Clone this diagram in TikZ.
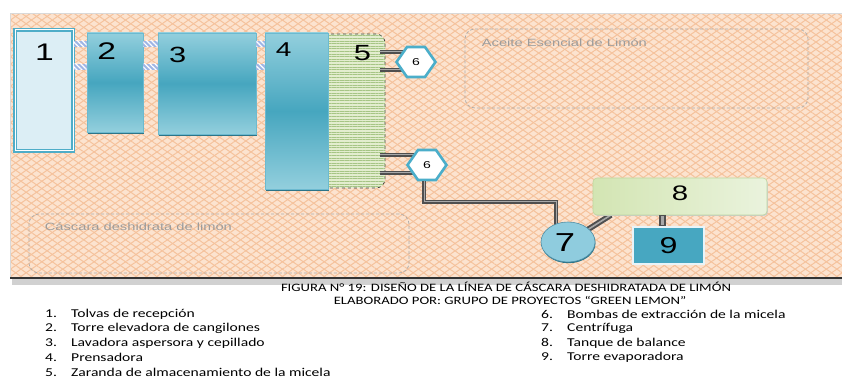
\documentclass[tikz,border=0pt]{standalone}
\usepackage{fontspec}
\setmainfont{Carlito}
\newfontfamily\figfont[FakeStretch=1.4]{Liberation Sans}
\newfontfamily\capfont[FakeStretch=1.3]{Carlito}
\usetikzlibrary{positioning, shapes.geometric, shapes.symbols, patterns.meta, shadows}
\definecolor{panelPeach}{HTML}{FCE3CF}
\definecolor{panelLine}{HTML}{F5C29C}
\definecolor{towerLight}{HTML}{93CFDD}
\definecolor{towerDark}{HTML}{46A6BF}
\definecolor{towerEdge}{HTML}{6CBAD0}
\definecolor{towerShade}{HTML}{2C7488}
\definecolor{hopperFill}{HTML}{DCEEF5}
\definecolor{hopperEdge}{HTML}{4FADC8}
\definecolor{sieveFill}{HTML}{E3EDCF}
\definecolor{sieveLine}{HTML}{A6C585}
\definecolor{linkBlue}{HTML}{9FB5E4}
\definecolor{pipeDark}{HTML}{4F4F4F}
\definecolor{pipeLight}{HTML}{A8A8A8}
\definecolor{pumpTeal}{HTML}{4BAECA}
\definecolor{spinFill}{HTML}{8FCCDE}
\definecolor{spinEdge}{HTML}{4F8EA6}
\definecolor{tankLeft}{HTML}{D3E5B3}
\definecolor{tankRight}{HTML}{EAF3DD}
\definecolor{tankEdge}{HTML}{BFD7A0}
\definecolor{evapFill}{HTML}{47A7C1}
\definecolor{noteGray}{HTML}{9C9C9C}

\begin{document}
\begin{tikzpicture}[x=1pt, y=-1pt,
  tower/.style={draw=towerEdge, line width=0.8pt, inner sep=0pt,
    top color=towerLight, bottom color=towerLight, middle color=towerDark,
    drop shadow={shadow xshift=0.6pt, shadow yshift=-1.8pt, fill=towerShade, opacity=1}},
  digit/.style={font=\figfont\fontsize{#1}{#1}\selectfont, inner sep=0pt},
  link/.style={fill=linkBlue,
    postaction={pattern={Lines[angle=-45, distance=3.5pt, line width=1.2pt]}, pattern color=white}},
  pipe/.style={draw=pipeDark, double=pipeLight, double distance=1pt, line width=1.6pt},
  pump/.style={shape=signal, signal to=west and east, signal pointer angle=110,
    draw=pumpTeal, line width=2.6pt, fill=white, inner sep=0pt,
    minimum width=39pt, minimum height=30pt, digit=10},
  note/.style={draw=gray!65, dash pattern=on 3pt off 2pt, line width=0.7pt,
    rounded corners=10pt, inner sep=0pt},
  notetext/.style={text=noteGray, font=\figfont\fontsize{10.5}{12}\selectfont, inner sep=0pt, anchor=west},
  captxt/.style={font=\capfont\fontsize{11.3}{13}\selectfont, inner sep=0pt},
  item/.style={font=\capfont\fontsize{12}{13}\selectfont, inner sep=0pt, anchor=west}
]
\useasboundingbox (0,0) rectangle (842,379);
\fill[white] (0,0) rectangle (842,379);

% fondo del diagrama
\fill[panelPeach] (10,14) rectangle (842,278);
\fill[pattern={Lines[angle=35, distance=6pt, line width=1pt]}, pattern color=panelLine] (10,14) rectangle (842,278);
\fill[pattern={Lines[angle=-35, distance=6pt, line width=1pt]}, pattern color=panelLine] (10,14) rectangle (842,278);
\draw[black!15, line width=1pt] (842,14) -- (10,14) -- (10,278);
\fill[black!18] (12,279) rectangle (842,285);
\draw[black!80, line width=1.6pt] (10,278) -- (842,278);

% zonas de producto
\node[note, minimum width=343pt, minimum height=79pt] (aceite) at (636.5,68.5) {};
\node[notetext] at ([shift={(17,14)}]aceite.north west) {Aceite Esencial de Limón};
\node[note, minimum width=380pt, minimum height=59pt] (cascara) at (219,243.5) {};
\node[notetext] at ([shift={(16,13)}]cascara.north west) {Cáscara deshidrata de limón};

% equipos
\node[draw=black!75, dashed, line width=0.7pt, rounded corners=9pt, fill=sieveFill,
  postaction={pattern={Lines[angle=0, distance=2.6pt, line width=0.8pt]}, pattern color=sieveLine},
  minimum width=70pt, minimum height=154pt, inner sep=0pt] (b5) at (350,111) {};
\node[tower, minimum width=63pt, minimum height=156pt] (b4) at (296.5,111) {};
\node[tower, minimum width=98pt, minimum height=101pt] (b3) at (207,83.5) {};
\node[tower, minimum width=56pt, minimum height=99pt] (b2) at (115,82.5) {};
\node[draw=hopperEdge, double=white, double distance=1pt, line width=1.3pt, fill=hopperFill,
  minimum width=58pt, minimum height=121pt, inner sep=0pt] (b1) at (44,90.5) {};

\node[digit=24] at ([shift={(30,23)}]b1.north west) {1};
\node[digit=24] at ([shift={(20,19)}]b2.north west) {2};
\node[digit=22] at ([shift={(20,22)}]b3.north west) {3};
\node[digit=20] at ([shift={(19,17)}]b4.north west) {4};
\node[digit=22] at ([shift={(34,20)}]b4.north east) {5};

% uniones entre equipos
\foreach \a/\b in {b1/b2, b2/b3, b3/b4}
  \foreach \lo/\hi in {41/47, 64/70}
    \fill[link] (\a.east |- 0,\lo) rectangle (\b.west |- 0,\hi);

% bombas
\coordinate (p6a) at (416,62);
\coordinate (p6b) at (427,165);
\foreach \p in {p6a, p6b}
  \foreach \s in {9, -9}
    \draw[pipe] ([yshift=\s pt+1pt]\p) -- ([yshift=\s pt+1pt, xshift=-5pt]\p -| b5.east);
\node[pump] (pumpA) at (p6a) {6};
\node[pump] (pumpB) at (p6b) {6};

% centrifuga, tanque y evaporador
\coordinate (bend) at (556,202);
\draw[pipe] ([xshift=-3pt]pumpB.south) |- (bend) -- (bend |- 0,235);
\draw[pipe, line width=2pt, double distance=1.6pt] (568,242) -- (611,215);
\node[draw=tankEdge, line width=0.6pt, rounded corners=4pt, left color=tankLeft, right color=tankRight,
  minimum width=174pt, minimum height=37pt, inner sep=0pt,
  drop shadow={shadow xshift=0.8pt, shadow yshift=-1pt, fill=black!20, opacity=1}] (b8) at (680,196.5) {};
\node[draw=white!88!evapFill, line width=2.2pt, fill=evapFill,
  minimum width=71pt, minimum height=37pt, inner sep=0pt,
  drop shadow={shadow xshift=1pt, shadow yshift=-1pt, fill=black!22, opacity=1}] (b9) at (668.5,245.5) {};
\draw[pipeDark, line width=7pt] ([xshift=-6.5pt]b9.north) -- ([xshift=-6.5pt]b9.north |- b8.south);
\draw[pipeLight, line width=3pt] ([xshift=-6.5pt, yshift=1pt]b9.north) -- ([xshift=-6.5pt, yshift=-1pt]b9.north |- b8.south);
\node[ellipse, minimum width=54pt, minimum height=40pt, inner sep=0pt, fill=spinFill,
  draw=spinEdge, line width=0.6pt,
  drop shadow={shadow xshift=0.5pt, shadow yshift=-1.2pt, fill=towerShade, opacity=1}] (c7) at (568,242) {};

\node[digit=26] at ([shift={(-3,1)}]c7.center) {7};
\node[digit=21] at ([shift={(0,-3)}]b8.center) {8};
\node[digit=23] at (b9.center) {9};

% leyenda
\node[captxt] (cap1) at (506,287) {FIGURA N° 19: DISEÑO DE LA LÍNEA DE CÁSCARA DESHIDRATADA DE LIMÓN};
\node[captxt] (cap2) at (510,300) {ELABORADO POR: GRUPO DE PROYECTOS “GREEN LEMON”};
\foreach \txt [count=\i] in {Tolvas de recepción, Torre elevadora de cangilones,
    Lavadora aspersora y cepillado, Prensadora, Zaranda de almacenamiento de la micela}
  \node[item] (left\i) at (45,299.5+14.5*\i) {\makebox[26pt][l]{\i.}\txt};
\foreach \txt [count=\i from 6] in {Bombas de extracción de la micela, Centrífuga,
    Tanque de balance, Torre evaporadora}
  \node[item] (right\i) at (541,299.5+14.5*\i-72.5) {\makebox[26pt][l]{\i.}\txt};
\end{tikzpicture}
\end{document}
